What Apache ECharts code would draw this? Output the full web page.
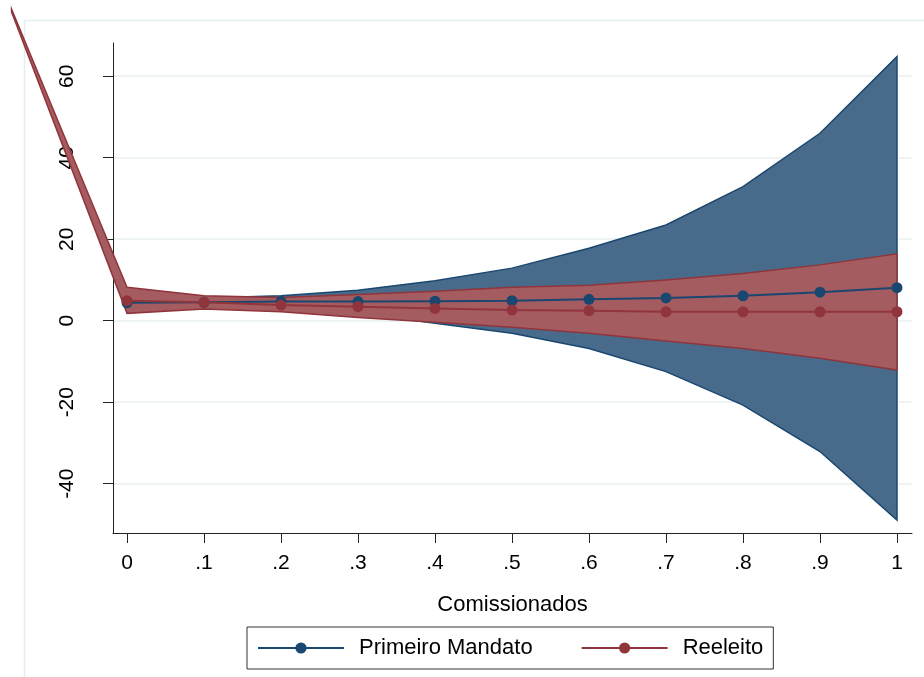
<!DOCTYPE html>
<html><head><meta charset="utf-8">
<script src="https://cdn.jsdelivr.net/npm/echarts@6/dist/echarts.min.js"></script>
<style>html,body{margin:0;padding:0;background:#fff}#c{width:924px;height:677px}</style>
</head><body><div id="c"></div>
<script>
// ---- data ----
const xValues = [0, 0.1, 0.2, 0.3, 0.4, 0.5, 0.6, 0.7, 0.8, 0.9, 1];
const primeiroMandato = [4.4, 4.5, 4.7, 4.7, 4.8, 4.9, 5.25, 5.6, 6.1, 7.0, 8.1];
const primeiroUpper   = [6.5, 5.6, 6.1, 7.5, 9.8, 12.9, 17.8, 23.5, 32.9, 46.0, 64.8];
const primeiroLower   = [2.3, 3.4, 3.5, 1.9, -0.6, -3.1, -6.8, -12.5, -20.7, -32.1, -48.9];
const reeleito        = [4.9, 4.5, 3.85, 3.45, 3.0, 2.6, 2.45, 2.2, 2.2, 2.2, 2.2];
const reeleitoUpper   = [8.2, 6.1, 5.7, 6.4, 7.2, 8.2, 8.7, 10.0, 11.6, 13.7, 16.4];
const reeleitoLower   = [1.8, 2.9, 2.2, 0.8, -0.4, -1.6, -3.1, -5.0, -6.8, -9.2, -12.1];
// the Reeleito band runs off the plot region to the upper left
const reeleitoTailX     = [-0.15];
const reeleitoTailUpper = [76.5];
const reeleitoTailLower = [75.8];
const xTicks = [0, 0.1, 0.2, 0.3, 0.4, 0.5, 0.6, 0.7, 0.8, 0.9, 1];
const xTickLabels = ['0', '.1', '.2', '.3', '.4', '.5', '.6', '.7', '.8', '.9', '1'];
const yTicks = [-40, -20, 0, 20, 40, 60];
const xTitle = 'Comissionados';
const names = ['Primeiro Mandato', 'Reeleito'];

const BLUE = '#1a476f', BLUE_FILL = '#496b8b';
const RED = '#90353b', RED_FILL = '#a55c60';
const FONT = 'Liberation Sans, Arial, sans-serif';

function band(name, xs, up, lo, fill, stroke) {
  return {
    type: 'custom', name: name, silent: true, clip: false,
    data: [[xs[0], up[0]]],
    renderItem: function (params, api) {
      const pts = [];
      for (let i = 0; i < xs.length; i++) pts.push(api.coord([xs[i], up[i]]));
      for (let i = xs.length - 1; i >= 0; i--) pts.push(api.coord([xs[i], lo[i]]));
      return { type: 'polygon', shape: { points: pts },
               style: { fill: fill, stroke: stroke, lineWidth: 1.5, lineJoin: 'miter' } };
    }
  };
}
function lineSeries(name, ys, color) {
  return {
    type: 'line', name: name, data: xValues.map((x, i) => [x, ys[i]]),
    symbol: 'circle', symbolSize: 11, showSymbol: true,
    lineStyle: { color: color, width: 2 }, itemStyle: { color: color },
    emphasis: { disabled: true }, animation: false
  };
}

const chart = echarts.init(document.getElementById('c'), null, { renderer: 'canvas' });
chart.setOption({
  animation: false,
  backgroundColor: '#ffffff',
  graphic: [{ type: 'rect', left: 22, top: 18, shape: { x: 0, y: 0, width: 1200, height: 1200 },
              style: { fill: 'none', stroke: '#e4edf0', lineWidth: 1.5 }, silent: true, z: -10 }],
  grid: { left: 113, top: 43, right: 12, bottom: 144, containLabel: false },
  xAxis: {
    type: 'value', min: -0.0182, max: 1.0195,
    name: xTitle, nameLocation: 'middle', nameGap: 61,
    nameTextStyle: { fontFamily: FONT, fontSize: 22, color: '#000' },
    axisLine: { show: true, onZero: false, lineStyle: { color: '#222', width: 1 } },
    axisTick: { show: true, length: 10, customValues: xTicks, lineStyle: { color: '#222' } },
    axisLabel: { customValues: xTicks, margin: 20, fontFamily: FONT, fontSize: 21, color: '#000',
      formatter: function (v) {
        let best = 0;
        for (let i = 0; i < xTicks.length; i++) if (Math.abs(xTicks[i] - v) < Math.abs(xTicks[best] - v)) best = i;
        return xTickLabels[best];
      } },
    splitLine: { show: false }
  },
  yAxis: {
    type: 'value', min: -52.1, max: 68.15,
    axisLine: { show: true, onZero: false, lineStyle: { color: '#222', width: 1 } },
    axisTick: { show: true, length: 10, customValues: yTicks, lineStyle: { color: '#222' } },
    axisLabel: { customValues: yTicks, rotate: 90, margin: 35, fontFamily: FONT, fontSize: 21, color: '#000' },
    splitLine: { show: true, lineStyle: { color: '#e8f0f2', width: 1.5 } }
  },
  legend: {
    data: names, left: 247, top: 627, orient: 'horizontal',
    itemWidth: 86, itemHeight: 14, itemGap: 48,
    padding: [10, 10, 10, 10],
    borderColor: '#333', borderWidth: 1,
    textStyle: { fontFamily: FONT, fontSize: 22, color: '#000', padding: [0, 0, 0, 10] },
    selectedMode: false
  },
  series: [
    band('band1', xValues, primeiroUpper, primeiroLower, BLUE_FILL, BLUE),
    band('band2', reeleitoTailX.concat(xValues), reeleitoTailUpper.concat(reeleitoUpper),
         reeleitoTailLower.concat(reeleitoLower), RED_FILL, RED),
    lineSeries(names[0], primeiroMandato, BLUE),
    lineSeries(names[1], reeleito, RED)
  ]
});
</script></body></html>
